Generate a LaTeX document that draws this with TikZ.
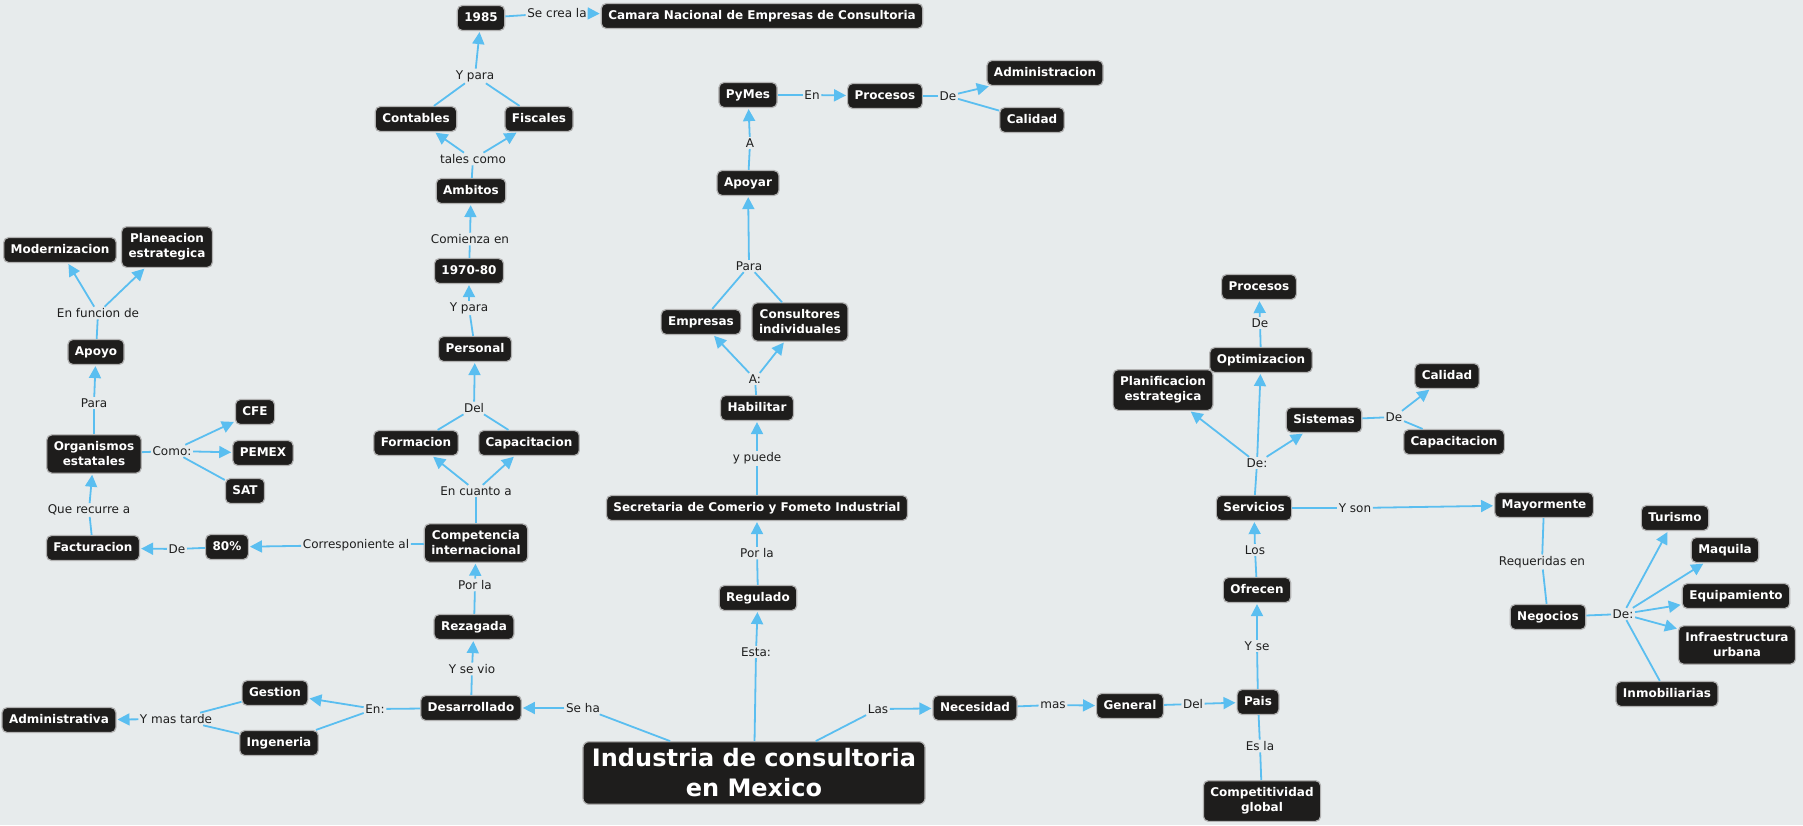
\documentclass[tikz,border=0pt]{standalone}
\usepackage{fontspec}
\setmainfont{DejaVu Sans}
\usetikzlibrary{arrows.meta}
\definecolor{bgc}{RGB}{231,235,236}
\definecolor{nodec}{RGB}{30,29,28}
\definecolor{edgec}{RGB}{90,190,240}
\definecolor{bordc}{RGB}{178,178,178}
\definecolor{labc}{RGB}{30,30,30}
\begin{document}
\begin{tikzpicture}[x=1pt,y=-1pt,
  cnode/.style={fill=nodec, draw=bordc, line width=1.2pt, rounded corners=5pt, text=white,
    font=\bfseries\fontsize{12}{15}\selectfont, inner xsep=7pt, inner ysep=6.5pt, text height=9pt, text depth=3pt},
  cnodetwo/.style={fill=nodec, draw=bordc, line width=1.2pt, rounded corners=5pt, text=white,
    font=\bfseries\fontsize{12}{15}\selectfont, inner xsep=7pt, inner ysep=7pt, align=center},
  bignode/.style={fill=nodec, draw=bordc, line width=1.2pt, rounded corners=6pt, text=white,
    font=\bfseries\fontsize{24}{30}\selectfont, inner xsep=9pt, inner ysep=7pt, align=center, minimum height=62pt},
  lab/.style={font=\fontsize{12}{14}\selectfont, text=labc, inner sep=1.5pt},
  ln/.style={draw=edgec, line width=1.8pt},
  arr/.style={draw=edgec, line width=1.8pt, -{Triangle[length=12pt,width=12pt]}, shorten >=1pt},
]
\useasboundingbox (0,0) rectangle (1803,825);
\fill[bgc] (0,0) rectangle (1803,825);

% ---------- concept nodes ----------
\node[cnode] (n1985) at (481,18) {1985};
\node[cnode] (camara) at (762,16) {Camara Nacional de Empresas de Consultoria};
\node[cnode] (contables) at (416,119) {Contables};
\node[cnode] (fiscales) at (539,119) {Fiscales};
\node[cnode] (ambitos) at (471,191) {Ambitos};
\node[cnode] (n1970) at (469,271) {1970-80};
\node[cnode] (personal) at (475,349) {Personal};
\node[cnode] (formacion) at (416,443) {Formacion};
\node[cnode] (capacitacionA) at (529,443) {Capacitacion};
\node[cnodetwo] (competencia) at (476,543) {Competencia\\internacional};
\node[cnode] (rezagada) at (474,627) {Rezagada};
\node[cnode] (desarrollado) at (471,708) {Desarrollado};
\node[cnode] (gestion) at (275,693) {Gestion};
\node[cnode] (ingeneria) at (279,743) {Ingeneria};
\node[cnode] (administrativa) at (59,720) {Administrativa};
\node[cnode] (ochenta) at (227,547) {80\%};
\node[cnode] (facturacion) at (93,548) {Facturacion};
\node[cnodetwo] (organismos) at (94,454) {Organismos\\estatales};
\node[cnode] (cfe) at (255,412) {CFE};
\node[cnode] (pemex) at (263,453) {PEMEX};
\node[cnode] (sat) at (245,491) {SAT};
\node[cnode] (apoyo) at (96,352) {Apoyo};
\node[cnode] (modernizacion) at (60,250) {Modernizacion};
\node[cnodetwo] (planeacion) at (167,247) {Planeacion\\estrategica};
\node[bignode] (industria) at (754,773) {Industria de consultoria\\en Mexico};
\node[cnode] (regulado) at (758,598) {Regulado};
\node[cnode] (secretaria) at (757,508) {Secretaria de Comerio y Fometo Industrial};
\node[cnode] (habilitar) at (757,408) {Habilitar};
\node[cnode] (empresas) at (701,322) {Empresas};
\node[cnodetwo] (consultores) at (800,322) {Consultores\\individuales};
\node[cnode] (apoyar) at (748,183) {Apoyar};
\node[cnode] (pymes) at (748,95) {PyMes};
\node[cnode] (procesosA) at (885,96) {Procesos};
\node[cnode] (administracion) at (1045,73) {Administracion};
\node[cnode] (calidadA) at (1032,120) {Calidad};
\node[cnode] (necesidad) at (975,708) {Necesidad};
\node[cnode] (general) at (1130,706) {General};
\node[cnode] (pais) at (1258,702) {Pais};
\node[cnodetwo] (competitividad) at (1262,801) {Competitividad\\global};
\node[cnode] (ofrecen) at (1257,590) {Ofrecen};
\node[cnode] (servicios) at (1254,508) {Servicios};
\node[cnodetwo] (planificacion) at (1163,390) {Planificacion\\estrategica};
\node[cnode] (optimizacion) at (1261,360) {Optimizacion};
\node[cnode] (procesosB) at (1259,287) {Procesos};
\node[cnode] (sistemas) at (1324,420) {Sistemas};
\node[cnode] (calidadB) at (1447,376) {Calidad};
\node[cnode] (capacitacionB) at (1454,442) {Capacitacion};
\node[cnode] (mayormente) at (1544,505) {Mayormente};
\node[cnode] (negocios) at (1548,617) {Negocios};
\node[cnode] (turismo) at (1675,518) {Turismo};
\node[cnode] (maquila) at (1725,550) {Maquila};
\node[cnode] (equipamiento) at (1736,596) {Equipamiento};
\node[cnodetwo] (infraestructura) at (1737,645) {Infraestructura\\urbana};
\node[cnode] (inmobiliarias) at (1667,694) {Inmobiliarias};

% ---------- linking phrases ----------
\node[lab] (l1) at (557,13) {Se crea la};
\node[lab] (l2) at (475,76) {Y para};
\node[lab] (l3) at (473,159) {tales como};
\node[lab] (l4) at (470,239) {Comienza en};
\node[lab] (l5) at (469,308) {Y para};
\node[lab] (l6) at (474,408) {Del};
\node[lab] (l7) at (476,491) {En cuanto a};
\node[lab] (l8) at (475,585) {Por la};
\node[lab] (l9) at (472,669) {Y se vio};
\node[lab] (l10) at (583,708) {Se ha};
\node[lab] (l11) at (375,709) {En:};
\node[lab] (l12) at (176,719) {Y mas tarde};
\node[lab] (l13) at (356,545) {Corresponiente al};
\node[lab] (l14) at (177,549) {De};
\node[lab] (l15) at (89,510) {Que recurre a};
\node[lab] (l16) at (172,451) {Como:};
\node[lab] (l17) at (94,403) {Para};
\node[lab] (l18) at (98,313) {En funcion de};
\node[lab] (l19) at (756,652) {Esta:};
\node[lab] (l20) at (757,553) {Por la};
\node[lab] (l21) at (757,458) {y puede};
\node[lab] (l22) at (755,379) {A:};
\node[lab] (l23) at (749,266) {Para};
\node[lab] (l24) at (750,143) {A};
\node[lab] (l25) at (812,95) {En};
\node[lab] (l26) at (948,96) {De};
\node[lab] (l27) at (878,709) {Las};
\node[lab] (l28) at (1053,705) {mas};
\node[lab] (l29) at (1193,704) {Del};
\node[lab] (l30) at (1257,646) {Y se};
\node[lab] (l31) at (1260,746) {Es la};
\node[lab] (l32) at (1255,550) {Los};
\node[lab] (l33) at (1257,463) {De:};
\node[lab] (l34) at (1260,323) {De};
\node[lab] (l35) at (1394,417) {De};
\node[lab] (l36) at (1355,508) {Y son};
\node[lab] (l37) at (1542,562) {Requeridas en};
\node[lab] (l38) at (1623,614) {De:};

% ---------- connectors ----------
\draw[ln] (n1985) -- (l1); \draw[arr] (l1) -- (camara);
\draw[ln] (contables) -- (l2); \draw[ln] (fiscales) -- (l2); \draw[arr] (l2) -- (n1985);
\draw[ln] (ambitos) -- (l3); \draw[arr] (l3) -- (contables); \draw[arr] (l3) -- (fiscales);
\draw[ln] (n1970) -- (l4); \draw[arr] (l4) -- (ambitos);
\draw[ln] (personal) -- (l5); \draw[arr] (l5) -- (n1970);
\draw[ln] (formacion) -- (l6); \draw[ln] (capacitacionA) -- (l6); \draw[arr] (l6) -- (personal);
\draw[ln] (competencia) -- (l7); \draw[arr] (l7) -- (formacion); \draw[arr] (l7) -- (capacitacionA);
\draw[ln] (rezagada) -- (l8); \draw[arr] (l8) -- (competencia);
\draw[ln] (desarrollado) -- (l9); \draw[arr] (l9) -- (rezagada);
\draw[ln] (industria) -- (l10); \draw[arr] (l10) -- (desarrollado);
\draw[ln] (desarrollado) -- (l11); \draw[arr] (l11) -- (gestion); \draw[ln] (l11) -- (ingeneria);
\draw[ln] (gestion) -- (l12); \draw[ln] (ingeneria) -- (l12); \draw[arr] (l12) -- (administrativa);
\draw[ln] (competencia) -- (l13); \draw[arr] (l13) -- (ochenta);
\draw[ln] (ochenta) -- (l14); \draw[arr] (l14) -- (facturacion);
\draw[ln] (facturacion) -- (l15); \draw[arr] (l15) -- (organismos);
\draw[ln] (organismos) -- (l16); \draw[arr] (l16) -- (cfe); \draw[arr] (l16) -- (pemex); \draw[ln] (l16) -- (sat);
\draw[ln] (organismos) -- (l17); \draw[arr] (l17) -- (apoyo);
\draw[ln] (apoyo) -- (l18); \draw[arr] (l18) -- (modernizacion); \draw[arr] (l18) -- (planeacion);
\draw[ln] (industria) -- (l19); \draw[arr] (l19) -- (regulado);
\draw[ln] (regulado) -- (l20); \draw[arr] (l20) -- (secretaria);
\draw[ln] (secretaria) -- (l21); \draw[arr] (l21) -- (habilitar);
\draw[ln] (habilitar) -- (l22); \draw[arr] (l22) -- (empresas); \draw[arr] (l22) -- (consultores);
\draw[ln] (empresas) -- (l23); \draw[ln] (consultores) -- (l23); \draw[arr] (l23) -- (apoyar);
\draw[ln] (apoyar) -- (l24); \draw[arr] (l24) -- (pymes);
\draw[ln] (pymes) -- (l25); \draw[arr] (l25) -- (procesosA);
\draw[ln] (procesosA) -- (l26); \draw[arr] (l26) -- (administracion); \draw[ln] (l26) -- (calidadA);
\draw[ln] (industria) -- (l27); \draw[arr] (l27) -- (necesidad);
\draw[ln] (necesidad) -- (l28); \draw[arr] (l28) -- (general);
\draw[ln] (general) -- (l29); \draw[arr] (l29) -- (pais);
\draw[ln] (pais) -- (l30); \draw[arr] (l30) -- (ofrecen);
\draw[ln] (pais) -- (l31); \draw[ln] (l31) -- (competitividad);
\draw[ln] (ofrecen) -- (l32); \draw[arr] (l32) -- (servicios);
\draw[ln] (servicios) -- (l33); \draw[arr] (l33) -- (planificacion); \draw[arr] (l33) -- (optimizacion); \draw[arr] (l33) -- (sistemas);
\draw[ln] (optimizacion) -- (l34); \draw[arr] (l34) -- (procesosB);
\draw[ln] (sistemas) -- (l35); \draw[arr] (l35) -- (calidadB); \draw[ln] (l35) -- (capacitacionB);
\draw[ln] (servicios) -- (l36); \draw[arr] (l36) -- (mayormente);
\draw[ln] (mayormente) -- (l37); \draw[ln] (l37) -- (negocios);
\draw[ln] (negocios) -- (l38);
\draw[arr] (l38) -- (turismo); \draw[arr] (l38) -- (maquila); \draw[arr] (l38) -- (equipamiento); \draw[arr] (l38) -- (infraestructura);
\draw[ln] (l38) -- (inmobiliarias);
\end{tikzpicture}
\end{document}
